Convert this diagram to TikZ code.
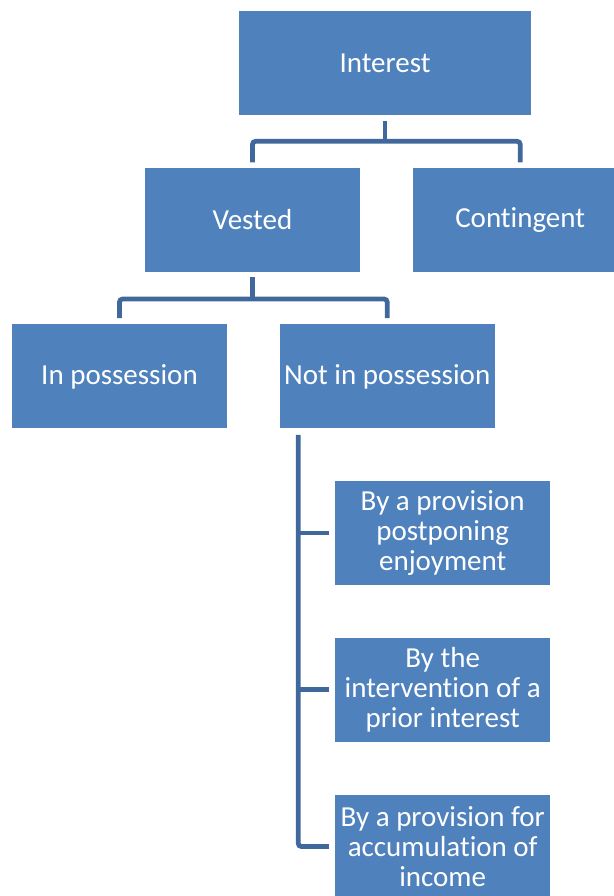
\documentclass[tikz,border=0pt]{standalone}
\usepackage{fontspec}
\setmainfont{Carlito}[Ligatures = NoCommon]
\usepackage{tikz}
\usetikzlibrary {
  positioning,
}
\definecolor{boxblue}{RGB}{79,129,189}
\definecolor{linkblue}{RGB}{64,104,156}
\tikzset{
  node distance = 1.04cm,
  box/.style = {
    rectangle,
    fill = boxblue,
    text = white,
    align = center,
    minimum width = 4.3cm,
    minimum height = 2.08cm,
    inner sep = 2pt,
    font = \fontsize{16.5}{17.2}\selectfont
  },
  link/.style = {
    -,
    draw = linkblue,
    line width = 0.095cm,
    rounded corners = 0.06cm
  },
}

\begin{document}
\begin{tikzpicture}
  \useasboundingbox (0,0) rectangle (12.28,-17.92);
  \clip (0,0) rectangle (12.28,-17.92);
  \node[box, minimum width = 5.84cm] (I) at (7.70,-1.26) {Interest};
  \node[box, below = of I, xshift = -2.65cm] (V) {Vested};
  \node[box, right = of V] (C) {Contingent};
  \node[box, below = of V, xshift = -2.66cm] (P) {In possession};
  \node[box, right = of P] (N) {Not in possession};
  \node[box, below = of N, xshift = 1.11cm] (N1) {By a provision\\postponing\\enjoyment};
  \node[box, below = of N1] (N2) {By the\\intervention of a\\prior interest};
  \node[box, below = of N2] (N3) {By a provision for\\accumulation of\\income};
  % connectors
  \draw[link] ([yshift = -0.12cm]I.south) -- ++(0,-0.4) coordinate (j1);
  \draw[link] ([yshift = 0.1cm]V.north) |- (j1) -| ([yshift = 0.1cm]C.north);
  \draw[link] ([yshift = -0.1cm]V.south) -- ++(0,-0.44) coordinate (j2);
  \draw[link] ([yshift = 0.12cm]P.north) |- (j2) -| ([yshift = 0.12cm]N.north);
  \coordinate (s) at ([xshift = 0.38cm, yshift = -0.12cm]N.south west);
  \draw[link] (s) |- ([xshift = -0.12cm]N3.west);
  \draw[link] (s |- N1.west) -- ([xshift = -0.12cm]N1.west);
  \draw[link] (s |- N2.west) -- ([xshift = -0.12cm]N2.west);
\end{tikzpicture}
\end{document}
